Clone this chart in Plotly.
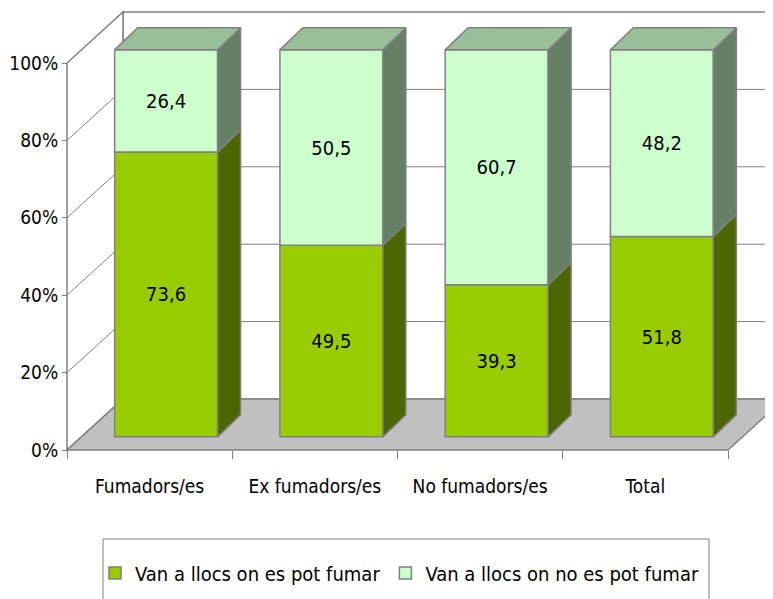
import plotly.graph_objects as go

# ---- data ----
categories = ["Fumadors/es", "Ex fumadors/es", "No fumadors/es", "Total"]
series_names = ["Van a llocs on es pot fumar", "Van a llocs on no es pot fumar"]
smoke_ok = [73.6, 49.5, 39.3, 51.8]
smoke_no = [26.4, 50.5, 60.7, 48.2]
y_ticks = [0, 20, 40, 60, 80, 100]
y_tick_labels = [f"{v}%" for v in y_ticks]

# ---- styling / 3D geometry (data units) ----
FONT = "DejaVu Sans Condensed, Liberation Sans Narrow, Arial Narrow, sans-serif"
GRAY = "#808080"
FRONT = ["#99CC00", "#CCFFCC"]
SIDE = ["#4C6600", "#668066"]
TOP = ["#99BF99", "#99BF99"]
WALL_DX, WALL_DY = 0.3389, 13.18      # depth of the whole box
BAR_OFF_X, BAR_OFF_Y = 0.10, 3.4      # bars sit a little behind the front plane
BAR_DX, BAR_DY = 0.139, 5.7           # depth of each bar
BAR_W = 0.623

xs = list(range(len(categories)))
fig = go.Figure()

# front faces
bases = [[0] * len(xs), smoke_ok]
vals = [smoke_ok, smoke_no]
for k in range(2):
    fig.add_trace(go.Bar(
        x=[x + BAR_OFF_X for x in xs], y=vals[k],
        base=[b + BAR_OFF_Y for b in bases[k]], width=BAR_W,
        name=series_names[k],
        marker=dict(color=FRONT[k], line=dict(color=GRAY, width=1.5)),
        texttemplate="%{y:.1f}", textposition="inside", insidetextanchor="middle",
        textangle=0, constraintext="none",
        textfont=dict(family=FONT, size=20, color="black"),
        hoverinfo="skip",
    ))

# side and top faces
for k in range(2):
    for i, x in enumerate(xs):
        x0 = x + BAR_OFF_X - BAR_W / 2
        x1 = x + BAR_OFF_X + BAR_W / 2
        b = bases[k][i] + BAR_OFF_Y
        t = b + vals[k][i]
        fig.add_trace(go.Scatter(
            x=[x1, x1 + BAR_DX, x1 + BAR_DX, x1, x1],
            y=[b, b + BAR_DY, t + BAR_DY, t, b],
            fill="toself", fillcolor=SIDE[k], mode="lines",
            line=dict(color=GRAY, width=1.5), showlegend=False, hoverinfo="skip"))
        if k == 1:
            fig.add_trace(go.Scatter(
                x=[x0, x1, x1 + BAR_DX, x0 + BAR_DX, x0],
                y=[t, t, t + BAR_DY, t + BAR_DY, t],
                fill="toself", fillcolor=TOP[k], mode="lines",
                line=dict(color=GRAY, width=1.5), showlegend=False, hoverinfo="skip"))

# walls, floor, gridlines
xl, xr = -0.5, len(xs) - 0.5
shapes = []
shapes.append(dict(type="rect", x0=xl + WALL_DX, x1=xr + WALL_DX, y0=WALL_DY, y1=100 + WALL_DY,
                   line=dict(color=GRAY, width=1.5), fillcolor="white", layer="below"))
shapes.append(dict(type="path",
                   path=f"M{xl},0 L{xl},100 L{xl + WALL_DX},{100 + WALL_DY} L{xl + WALL_DX},{WALL_DY} Z",
                   line=dict(color=GRAY, width=1.5), fillcolor="white", layer="below"))
for v in y_ticks[1:-1]:
    shapes.append(dict(type="line", x0=xl + WALL_DX, x1=xr + WALL_DX, y0=v + WALL_DY, y1=v + WALL_DY,
                       line=dict(color=GRAY, width=1), layer="below"))
    shapes.append(dict(type="line", x0=xl, x1=xl + WALL_DX, y0=v, y1=v + WALL_DY,
                       line=dict(color=GRAY, width=1), layer="below"))
shapes.append(dict(type="path",
                   path=f"M{xl},0 L{xr},0 L{xr + WALL_DX},{WALL_DY} L{xl + WALL_DX},{WALL_DY} Z",
                   line=dict(color=GRAY, width=1.5), fillcolor="#C0C0C0", layer="below"))

# page has an 8px body margin: figure is drawn 8px in from the window edge
OFF = 8
W, H = 773 - OFF, 599 - OFF
PX_X = 165.25   # px per category
PX_Y = 3.87     # px per percent
X0_PX, Y0_PX = 67 - OFF, 450 - OFF
x_range = [xl - X0_PX / PX_X, xl + (W - X0_PX) / PX_X]
y_range = [-(H - Y0_PX) / PX_Y, Y0_PX / PX_Y]

# legend frame
shapes.append(dict(type="rect", xref="paper", yref="paper",
                   x0=(103 - OFF) / W, x1=(709 - OFF) / W, y0=-0.05, y1=(599 - 539) / H,
                   line=dict(color=GRAY, width=1), fillcolor="rgba(0,0,0,0)"))

fig.update_layout(
    width=W, height=H, margin=dict(l=0, r=0, t=0, b=0, autoexpand=False),
    paper_bgcolor="white", plot_bgcolor="white",
    barmode="overlay", separators=", ",
    shapes=shapes,
    font=dict(family=FONT, size=20, color="black"),
    xaxis=dict(range=x_range, anchor="free", position=(H - Y0_PX) / H,
               tickmode="array", tickvals=xs, ticktext=categories,
               ticks="outside", ticklen=19, tickcolor="rgba(0,0,0,0)",
               minor=dict(tickmode="array", tickvals=[x - 0.5 for x in xs] + [xr],
                          ticks="outside", ticklen=8, tickcolor=GRAY, showgrid=False),
               showgrid=False, zeroline=False, showline=False, automargin=False,
               tickfont=dict(family=FONT, size=19, color="black")),
    yaxis=dict(range=y_range, anchor="free", position=X0_PX / W,
               tickmode="array", tickvals=y_ticks, ticktext=y_tick_labels,
               ticks="outside", ticklen=5, tickcolor=GRAY,
               showgrid=False, zeroline=False, showline=False, automargin=False,
               tickfont=dict(family=FONT, size=19, color="black")),
    legend=dict(orientation="h", x=(95 - OFF) / W, y=(599 - 573) / H, xanchor="left", yanchor="middle",
                borderwidth=0, bgcolor="rgba(0,0,0,0)",
                font=dict(family=FONT, size=20, color="black"), traceorder="normal"),
)

fig.write_html("out.html")
